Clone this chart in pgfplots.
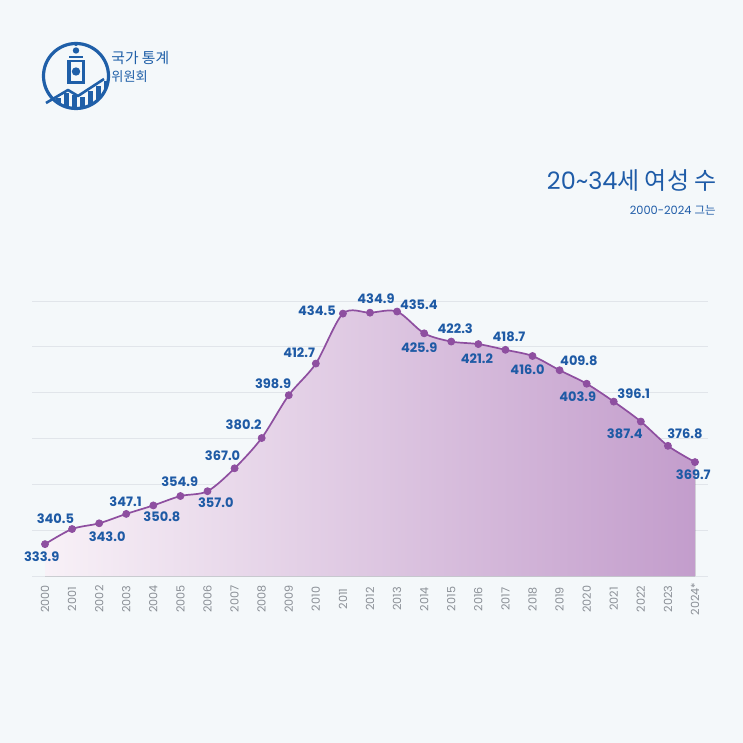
\documentclass[border=0pt]{standalone}
\usepackage{pgfplots}
\pgfplotsset{compat=1.18}
\usepackage{pgfplotstable}
\usepgfplotslibrary{fillbetween}
\usepackage{fontspec}
\setmainfont{Poppins}
\newfontfamily\cjk{Noto Sans CJK KR}
\definecolor{bg}{HTML}{F4F8FA}
\definecolor{gridc}{HTML}{E1E5EA}
\definecolor{linec}{HTML}{8E4FA0}
\definecolor{fillL}{HTML}{F8F1F7}
\definecolor{fillM}{HTML}{E8D5E9}
\definecolor{fillR}{HTML}{C39DCC}
\definecolor{labc}{HTML}{1E5AA5}
\definecolor{tickc}{HTML}{8A8F96}
\definecolor{titlec}{HTML}{1F5CA8}
\definecolor{logoc}{HTML}{1F5FA8}
\pagecolor{bg}

\pgfplotstableread{
x y dx dy
0 333.9 -3.3 -12.4
1 340.5 -16.7 10.7
2 343.0 8 -13.4
3 347.1 -0.7 12.3
4 350.8 8.6 -11.6
5 354.9 -0.7 14.4
6 357.0 8.3 -11.6
7 367.0 -12 12.6
8 380.2 -18 13
9 398.9 -15.7 11.3
10 412.7 -16.7 11.3
11 434.5 -26 3.3
12 434.9 6 13.7
13 435.4 21.7 6.7
14 425.9 -5 -14.4
15 422.3 4 12.7
16 421.2 -1.4 -14.7
17 418.7 3.6 12.6
18 416.0 -5 -13.7
19 409.8 19.3 9.6
20 403.9 -9 -13.3
21 396.1 20 8.4
22 387.4 -16 -12.3
23 376.8 17 12.4
24 369.7 -1.7 -12.3
}\datatable

\begin{document}%
\begin{tikzpicture}
\begin{scope}[x=0.5pt,y=-0.5pt]
\path (0,0) rectangle (743,743);
% logo
\begin{scope}
\clip (76,76) circle (32);
\foreach \bx/\by in {48/104,56/98,64/93,72/95,80/97,88/91,96/86,104/81}{
  \fill[logoc] (\bx,\by) rectangle ++(5,40);
}
\end{scope}
\draw[logoc, line width=1.3pt, line join=round] (46,103) -- (68,90) -- (78,96) -- (104,79);
\draw[logoc, line width=1.6pt] (76,76) circle (32.5);
\fill[logoc] (76,44) circle (2);
\fill[logoc] (76,50.5) circle (3.2);
\fill[logoc] (69,56) rectangle (83,58);
\fill[logoc] (67,60) rectangle (70.5,84);
\fill[logoc] (81.5,60) rectangle (85,84);
\fill[logoc] (70.5,60) rectangle (81.5,62.5);
\fill[logoc] (70.5,81.5) rectangle (81.5,84);
\fill[logoc] (76,71.5) circle (4.2);
\node[anchor=west, inner sep=0pt, text=logoc, font=\cjk\fontsize{7.4}{8}\selectfont] at (111,58) {국가 통계};
\node[anchor=west, inner sep=0pt, text=logoc, font=\cjk\fontsize{6.6}{7}\selectfont] at (111,77) {위원회};
% title
\node[anchor=east, inner sep=0pt, text=titlec, font=\fontsize{12}{12}\selectfont] at (717,181) {20\textasciitilde34{\cjk 세 여성 수}};
\node[anchor=east, inner sep=0pt, text=titlec, font=\fontsize{5.7}{6}\selectfont] at (716,210) {2000-2024 {\cjk 그는}};
\end{scope}
\begin{axis}[
  at={(16pt,-288pt)}, anchor=south west,
  scale only axis, width=338pt, height=137.5pt,
  xmin=-0.48, xmax=24.48, ymin=320, ymax=440,
  clip=false,
  axis line style={draw=none},
  major tick length=0pt,
  ytick={320,340,...,440}, yticklabels={},
  ymajorgrids, grid style={gridc, line width=0.5pt},
  xtick={0,...,24},
  xticklabels={2000,2001,2002,2003,2004,2005,2006,2007,2008,2009,2010,2011,2012,2013,2014,2015,2016,2017,2018,2019,2020,2021,2022,2023,2024*},
  xticklabel style={yshift=-11.5pt, rotate=90, anchor=center, text=tickc, font=\fontsize{5.6}{6}\selectfont, inner sep=0pt},
]
\addplot[name path=A, draw=linec, line width=0.85pt, smooth, tension=0.5, mark=none] table[x=x,y=y] \datatable;
\path[name path=B] (axis cs:0,320) -- (axis cs:24,320);
\addplot[draw=none, left color=fillL, middle color=fillM, right color=fillR] fill between[of=A and B];
\addplot[only marks, mark=*, mark size=1.75pt, mark options={fill=linec, draw=linec},
  nodes near coords, point meta=explicit symbolic,
  visualization depends on={\thisrow{dx} \as \shx},
  visualization depends on={\thisrow{dy} \as \shy},
  every node near coord/.append style={anchor=center, xshift=\shx*0.5pt, yshift=\shy*0.5pt, font=\bfseries\fontsize{6.5}{6.5}\selectfont, text=labc, inner sep=0pt}
] table[x=x,y=y,meta=y] \datatable;
\end{axis}
\end{tikzpicture}%
\end{document}
